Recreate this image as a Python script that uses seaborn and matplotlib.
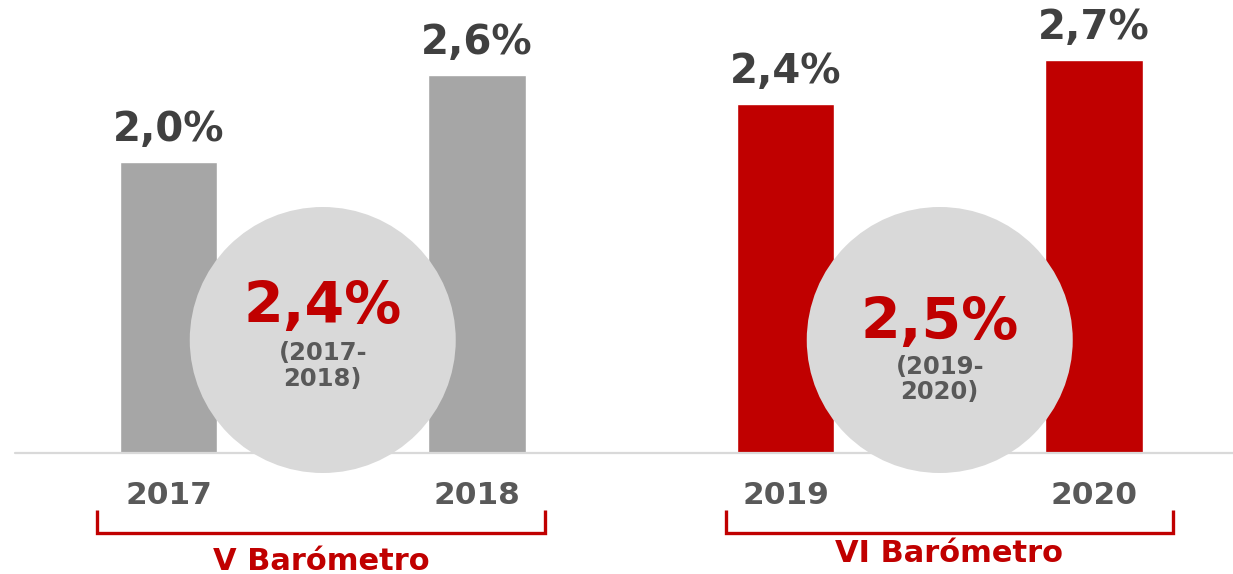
import matplotlib
matplotlib.use("Agg")
import matplotlib.pyplot as plt
import seaborn as sns
import pandas as pd
from matplotlib.patches import Ellipse

# data
years = ["2017", "2018", "2019", "2020"]
values = [2.0, 2.6, 2.4, 2.7]
value_labels = ["2,0%", "2,6%", "2,4%", "2,7%"]
bar_colors = ["#a6a6a6", "#a6a6a6", "#c00000", "#c00000"]
avg_labels = ["2,4%", "2,5%"]
avg_periods = ["(2017-\n2018)", "(2019-\n2020)"]
groups = ["V Barómetro", "VI Barómetro"]

df = pd.DataFrame({"year": years, "value": values})

sns.set_style("white")
plt.rcParams["font.family"] = ["DejaVu Sans"]

fig = plt.figure(figsize=(12.33, 5.74), dpi=100)
ax = fig.add_axes([0, 0, 1, 1])

sns.barplot(data=df, x="year", y="value", hue="year", palette=bar_colors,
            width=0.316, legend=False, ax=ax, saturation=1)

px_x = 308.5   # px per category step
px_y = 145.5   # px per unit
ax.set_xlim(-168.5 / px_x, (1233 - 168.5) / px_x)
ax.set_ylim(-121 / px_y, 453 / px_y)
ax.axis("off")

# baseline
ax.plot([(15 - 168.5) / px_x, 4], [0, 0], color="#d9d9d9", lw=1.6, zorder=1)

# value labels
for i, (v, lab) in enumerate(zip(values, value_labels)):
    ax.text(i, v + 0.22, lab, ha="center", va="center", fontsize=29,
            fontweight="bold", color="#404040")

# circles with period averages
r = 133
circ_y = [1.003, 0.893]
sub_y = [0.595, 0.505]
for k in range(2):
    cx = 2 * k + 0.5
    ax.add_patch(Ellipse((cx, 113 / px_y), 2 * r / px_x, 2 * r / px_y,
                         color="#d9d9d9", zorder=3, lw=0))
    ax.text(cx, circ_y[k], avg_labels[k], ha="center", va="center",
            fontsize=41, fontweight="bold", color="#c00000", zorder=4)
    ax.text(cx, sub_y[k], avg_periods[k], ha="center", va="center",
            fontsize=17.5, fontweight="bold", color="#595959", zorder=4,
            linespacing=1.1)

# year labels
for i, y in enumerate(years):
    ax.text(i, -42 / px_y, y, ha="center", va="center", fontsize=22.5,
            fontweight="bold", color="#595959")

# brackets
brackets = [(97, 545), (726, 1173)]
group_y = [-108 / px_y, -100 / px_y]
for k, (x0, x1) in enumerate(brackets):
    xa = (x0 - 168.5) / px_x
    xb = (x1 - 168.5) / px_x
    yt = -57 / px_y
    yb = -80 / px_y
    ax.plot([xa, xa, xb, xb], [yt, yb, yb, yt], color="#c00000", lw=2.4,
            solid_joinstyle="miter", solid_capstyle="butt")
    ax.text((xa + xb) / 2, group_y[k], groups[k], ha="center", va="center",
            fontsize=22, fontweight="bold", color="#c00000")

fig.savefig("out.png", dpi=100)
